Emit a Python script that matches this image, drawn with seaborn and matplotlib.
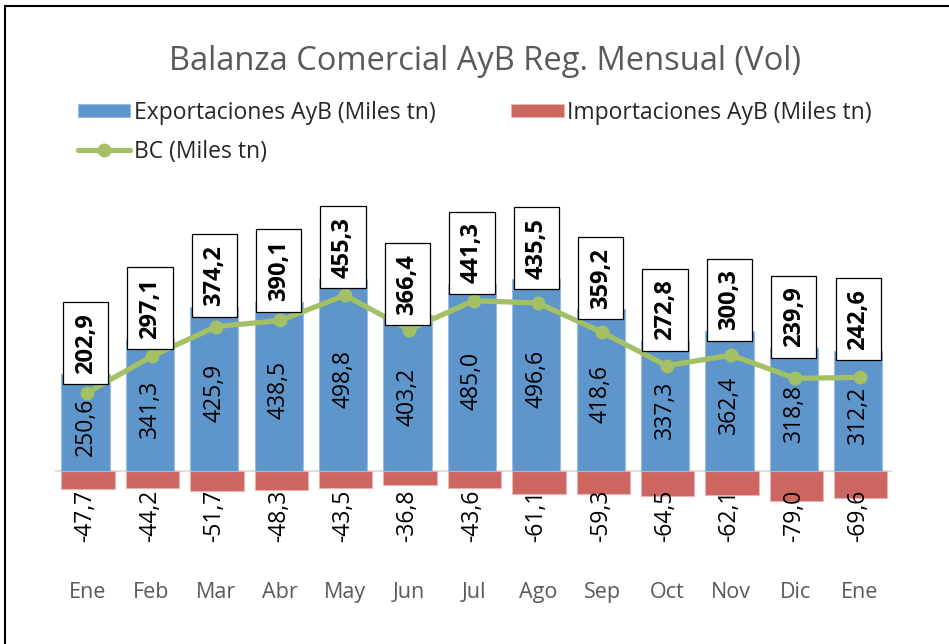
import matplotlib
matplotlib.use("Agg")
import matplotlib.pyplot as plt
import seaborn as sns
import numpy as np
import pandas as pd

months = ["Ene", "Feb", "Mar", "Abr", "May", "Jun", "Jul", "Ago", "Sep", "Oct", "Nov", "Dic", "Ene"]
exportaciones = [250.6, 341.3, 425.9, 438.5, 498.8, 403.2, 485.0, 496.6, 418.6, 337.3, 362.4, 318.8, 312.2]
importaciones = [-47.7, -44.2, -51.7, -48.3, -43.5, -36.8, -43.6, -61.1, -59.3, -64.5, -62.1, -79.0, -69.6]
bc = [202.9, 297.1, 374.2, 390.1, 455.3, 366.4, 441.3, 435.5, 359.2, 272.8, 300.3, 239.9, 242.6]

BLUE = "#5E95CB"
RED = "#CD6661"
GREEN = "#A3C164"
GRAY = "#595959"

sns.set_theme(style="white")
plt.rcParams['font.family'] = ['Open Sans', 'DejaVu Sans']

df = pd.DataFrame({"mes": months, "exp": exportaciones, "imp": importaciones, "bc": bc})
x = np.arange(len(df))

fig = plt.figure(figsize=(9.49, 6.44), dpi=100)
W, H = 949, 644
# axes box in pixels: x 55..892, y 201..575
ax = fig.add_axes([55 / W, 1 - 575 / H, (892 - 55) / W, (575 - 201) / H])

h_imp = ax.bar(x - 0.4, df["imp"], width=0.83, align="edge", color=RED, edgecolor="#E9B3AF", linewidth=0.8,
               label="Importaciones AyB (Miles tn)", zorder=2)
h_exp = ax.bar(x - 0.4, df["exp"], width=0.75, align="edge", color=BLUE, edgecolor="#9DBCE0", linewidth=0.8,
               label="Exportaciones AyB (Miles tn)", zorder=2)
h_bc, = ax.plot(x, df["bc"], color=GREEN, linewidth=3.8, marker="o", markersize=9,
                label="BC (Miles tn)", zorder=3)
ax.axhline(0, color="#D9D9D9", linewidth=1.2, zorder=1)

ax.set_xlim(-0.5, 12.5)
ax.set_ylim(-270, 700)
ax.set_yticks([])
for s in ax.spines.values():
    s.set_visible(False)
ax.set_xticks(x)
ax.set_xticklabels(months, fontsize=15.5, color=GRAY)
ax.tick_params(axis="x", length=0, pad=5)

def fmt(v):
    return f"{v:.1f}".replace(".", ",")

for i in range(len(df)):
    e = df["exp"][i]
    ax.text(i - 0.025, e / 2 - 10, fmt(e), rotation=90, ha="center", va="center",
            fontsize=16.5, color="black", zorder=4)
    ax.text(i - 0.025, -48, fmt(df["imp"][i]), rotation=90, ha="center", va="top",
            fontsize=16.5, color="black", zorder=4)
    ax.text(i - 0.025, e + 2, fmt(df["bc"][i]), rotation=90, ha="center", va="bottom",
            fontsize=17, fontweight="bold", color="black", zorder=5,
            bbox=dict(boxstyle="square,pad=0.45", facecolor="white", edgecolor="black", linewidth=0.9))

fig.text(485 / W, 1 - 62 / H, "Balanza Comercial AyB Reg. Mensual (Vol)", ha="center", va="center",
         fontsize=23.5, color=GRAY)

# column-major fill: col 1 = Exportaciones, BC ; col 2 = Importaciones
leg = fig.legend([h_exp, h_bc, h_imp],
                 ["Exportaciones AyB (Miles tn)", "BC (Miles tn)", "Importaciones AyB (Miles tn)"],
                 loc="upper left", bbox_to_anchor=(57 / W, 1 - 80 / H), ncol=2,
                 frameon=False, fontsize=16.5, handlelength=2.3, handleheight=0.55, handletextpad=0.15,
                 columnspacing=3.3, labelspacing=0.65)

# frame lines (top and left) as in the cropped screenshot
fig.add_artist(plt.Line2D([4.5 / W, 4.5 / W], [0, 1 - 6 / H], color="black", linewidth=1.5,
                          transform=fig.transFigure))
fig.add_artist(plt.Line2D([4.5 / W, 1], [1 - 6 / H, 1 - 6 / H], color="black", linewidth=1.5,
                          transform=fig.transFigure))

fig.savefig("out.png", dpi=100)
